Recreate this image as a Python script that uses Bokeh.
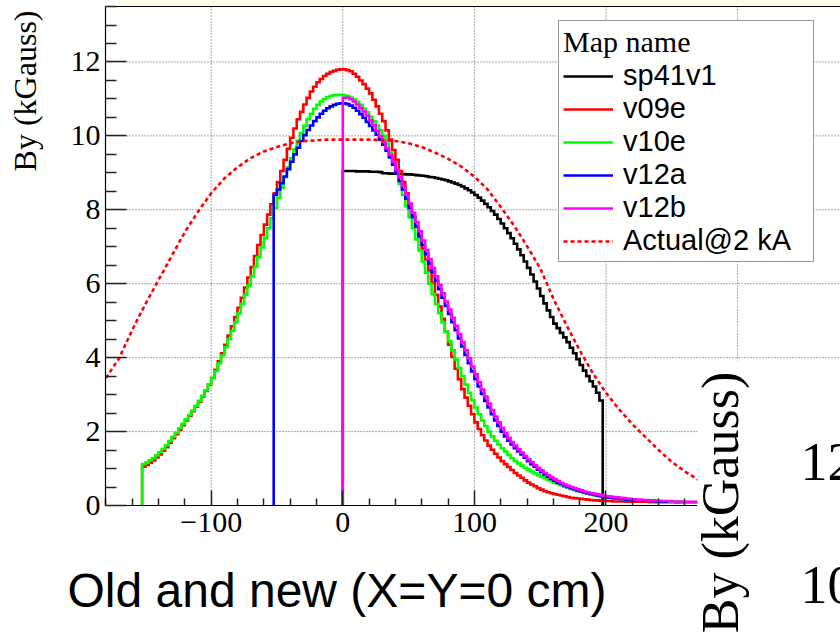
import math
from bokeh.plotting import figure
from bokeh.models import (FixedTicker, Label, Legend, LegendItem, BoxAnnotation,
                          Range1d, LinearAxis)
from bokeh.embed import file_html
from bokeh.resources import INLINE

# ---------------- data ----------------
BIN_WIDTH = 2.5  # cm, histogram bin width

SP41V1_START = 0.0
SP41V1 = [9.05, 9.05, 9.05, 9.05, 9.04, 9.04, 9.04, 9.04, 9.03, 9.03, 9.03, 9.02,
          8.99, 8.99, 8.98, 8.98, 8.98, 8.97, 8.97, 8.96, 8.96, 8.95, 8.94, 8.93,
          8.92, 8.91, 8.89, 8.88, 8.86, 8.84, 8.82, 8.80, 8.77, 8.74, 8.71, 8.67,
          8.63, 8.58, 8.53, 8.47,
          8.40, 8.33, 8.25, 8.16, 8.07, 7.97, 7.87, 7.75, 7.63, 7.50, 7.37, 7.23,
          7.08, 6.93, 6.77, 6.60, 6.43, 6.25, 6.06, 5.87, 5.67, 5.47, 5.28, 5.10,
          4.92, 4.80, 4.67, 4.55, 4.42, 4.27, 4.12, 3.96, 3.80, 3.65, 3.50, 3.36,
          3.22, 3.05, 2.84]

V09E_START = -152.5
V09E = [1.05, 1.10, 1.16, 1.22, 1.30, 1.38, 1.48, 1.58, 1.70, 1.82, 1.93, 2.05,
        2.17, 2.30, 2.42, 2.55, 2.67, 2.80, 2.95, 3.10, 3.27, 3.45, 3.67, 3.90,
        4.12, 4.35, 4.60, 4.85, 5.10, 5.35, 5.62, 5.90, 6.17, 6.45, 6.75, 7.05,
        7.32, 7.60, 7.87, 8.15, 8.45, 8.75, 9.05, 9.35, 9.65, 9.95, 10.20, 10.45,
        10.65, 10.85, 11.03, 11.20, 11.33, 11.45, 11.54, 11.62, 11.68, 11.73,
        11.76, 11.79, 11.80,
        11.80, 11.78, 11.75, 11.68, 11.60, 11.50, 11.40, 11.28, 11.15, 10.98,
        10.80, 10.60, 10.40, 10.15, 9.90, 9.62, 9.35, 9.05, 8.75, 8.45, 8.15,
        7.85, 7.55, 7.25, 6.95, 6.65, 6.35, 6.02, 5.70, 5.38, 5.05, 4.70, 4.35,
        4.02, 3.70, 3.42, 3.15, 2.92, 2.70, 2.47,
        2.25, 2.07, 1.90, 1.76, 1.62, 1.51, 1.40, 1.30, 1.20, 1.12, 1.04, 0.96,
        0.88, 0.81, 0.75, 0.68, 0.62, 0.57, 0.52, 0.47, 0.43, 0.39, 0.36, 0.33,
        0.31, 0.29, 0.27, 0.25, 0.23, 0.21, 0.20, 0.19, 0.18, 0.17, 0.16, 0.15,
        0.14, 0.14, 0.13, 0.13,
        0.12, 0.12, 0.11, 0.11, 0.11, 0.11, 0.10, 0.10, 0.10, 0.10, 0.10, 0.10,
        0.10, 0.09, 0.09, 0.09, 0.09, 0.09, 0.09, 0.09, 0.09, 0.08, 0.08, 0.08,
        0.08, 0.08, 0.08, 0.08]

V10E_START = -152.5
V10E = [1.12, 1.16, 1.22, 1.28, 1.36, 1.44, 1.53, 1.63, 1.74, 1.86, 1.97, 2.09,
        2.21, 2.33, 2.45, 2.57, 2.70, 2.83, 2.97, 3.12, 3.28, 3.45, 3.64, 3.85,
        4.06, 4.28, 4.50, 4.72, 4.96, 5.20, 5.45, 5.70, 5.95, 6.20, 6.46, 6.72,
        6.98, 7.24, 7.50, 7.77, 8.05, 8.32, 8.60, 8.88, 9.15, 9.40, 9.64, 9.87,
        10.08, 10.27, 10.45, 10.60, 10.73, 10.84, 10.93, 11.00, 11.05, 11.08,
        11.10, 11.11, 11.11,
        11.10, 11.08, 11.04, 10.99, 10.92, 10.84, 10.74, 10.64, 10.52, 10.40,
        10.28, 10.15, 10.00, 9.79, 9.55, 9.28, 9.00, 8.70, 8.40, 8.10, 7.80,
        7.50, 7.20, 6.90, 6.60, 6.30, 6.00, 5.72, 5.45, 5.20, 4.95, 4.70, 4.45,
        4.20, 3.95, 3.72, 3.50, 3.27, 3.05, 2.85,
        2.65, 2.47, 2.30, 2.15, 2.00, 1.87, 1.75, 1.65, 1.55, 1.46, 1.37, 1.28,
        1.20, 1.14, 1.08, 1.02, 0.97, 0.92, 0.87, 0.82, 0.78, 0.74, 0.70, 0.66,
        0.62, 0.58, 0.55, 0.51, 0.48, 0.45, 0.42, 0.39, 0.37, 0.34, 0.32, 0.30,
        0.28, 0.26, 0.25, 0.23,
        0.22, 0.21, 0.20, 0.19, 0.18, 0.17, 0.16, 0.16, 0.15, 0.15, 0.14, 0.14,
        0.13, 0.13, 0.12, 0.12, 0.11, 0.11, 0.11, 0.10, 0.10, 0.10, 0.10, 0.09,
        0.09, 0.09, 0.09, 0.09]

V12A_START = -52.5
V12A = [8.40, 8.55, 8.72, 8.90, 9.10, 9.30, 9.50, 9.68, 9.86, 10.02, 10.16,
        10.28, 10.40, 10.50, 10.60, 10.68, 10.75, 10.80, 10.84, 10.87, 10.88,
        10.88, 10.86, 10.82, 10.76, 10.68, 10.59, 10.49, 10.38, 10.27, 10.15,
        10.03, 9.90, 9.76, 9.60, 9.42, 9.22, 9.00, 8.78, 8.55, 8.30, 8.05, 7.80,
        7.55, 7.30, 7.05, 6.80, 6.55, 6.32, 6.08, 5.85, 5.62, 5.40, 5.18, 4.96,
        4.74, 4.52, 4.30, 4.07, 3.85, 3.63,
        3.42, 3.22, 3.02, 2.83, 2.65, 2.47, 2.30, 2.15, 2.00, 1.87, 1.75, 1.65,
        1.55, 1.46, 1.38, 1.29, 1.20, 1.12, 1.05, 0.97, 0.90, 0.84, 0.78, 0.72,
        0.67, 0.62, 0.58, 0.54, 0.50, 0.47, 0.44, 0.41, 0.38, 0.35, 0.33, 0.31,
        0.29, 0.27, 0.25, 0.23,
        0.22, 0.21, 0.20, 0.19, 0.18, 0.17, 0.16, 0.16, 0.15, 0.14, 0.14, 0.13,
        0.13, 0.12, 0.12, 0.11, 0.11, 0.10, 0.10]

V12B_START = 0.0
V12B = [11.03, 11.03, 10.99, 10.93, 10.85, 10.76, 10.66, 10.55, 10.42, 10.29,
        10.14, 9.99, 9.84, 9.67, 9.49, 9.30, 9.09, 8.88, 8.65, 8.41, 8.17, 7.92,
        7.67, 7.42, 7.17, 6.92, 6.67, 6.43, 6.20, 5.97, 5.74, 5.52, 5.30, 5.08,
        4.86, 4.64, 4.42, 4.20, 3.98, 3.76,
        3.55, 3.34, 3.14, 2.95, 2.76, 2.58, 2.41, 2.25, 2.10, 1.96, 1.83, 1.72,
        1.62, 1.52, 1.43, 1.34, 1.25, 1.17, 1.09, 1.02, 0.95, 0.88, 0.82, 0.76,
        0.71, 0.66, 0.61, 0.57, 0.53, 0.50, 0.47, 0.44, 0.41, 0.38, 0.36, 0.34,
        0.32, 0.30, 0.28, 0.26,
        0.25, 0.24, 0.23, 0.22, 0.21, 0.20, 0.19, 0.18, 0.17, 0.16, 0.16, 0.15,
        0.15, 0.14, 0.14, 0.13, 0.13, 0.12, 0.12, 0.12, 0.11, 0.11, 0.11, 0.10,
        0.10, 0.10, 0.10, 0.10]

ACTUAL_X = [-180, -170, -160, -150, -140, -130, -120, -110, -100, -90, -80, -70,
            -60, -50, -40, -30, -20, -10, 0, 10, 20, 30, 40, 50, 60, 70, 80, 90,
            100, 110, 120, 130, 140, 150, 160, 170, 180, 190, 200, 210, 220, 230,
            240, 250, 260, 270, 280]
ACTUAL_Y = [3.45, 3.98, 4.75, 5.45, 6.10, 6.75, 7.40, 7.95, 8.45, 8.85, 9.15, 9.40,
            9.58, 9.70, 9.80, 9.86, 9.88, 9.90, 9.90, 9.90, 9.90, 9.89, 9.86, 9.80,
            9.70, 9.55, 9.38, 9.17, 8.90, 8.55, 8.08, 7.58, 7.02, 6.42, 5.60, 4.88,
            4.20, 3.58, 3.05, 2.60, 2.20, 1.85, 1.50, 1.18, 0.92, 0.70, 0.52]

SERIES_NAMES = ["sp41v1", "v09e", "v10e", "v12a", "v12b", "Actual@2 kA"]
X_TICKS = [-100, 0, 100, 200, 300]
X_TICK_LABELS = ["\u2212100", "0", "100", "200", "300"]
Y_TICKS = [0, 2, 4, 6, 8, 10, 12]
Y_TICK_LABELS = ["0", "2", "4", "6", "8", "10", "12"]

# ---------------- geometry of the chart panel ----------------
X_MIN, X_MAX = -180.3, 378.2      # visible data span of the frame
Y_MIN, Y_MAX = 0.0, 13.5
X_AXIS_END = 269.5                # where the x axis disappears under the next picture
PX_PER_X = 1.316                  # px per cm
PX_PER_Y = 36.96                  # px per kGauss
W, H = 840, 643
LEFT_PX, BOTTOM_PX = 105, 505     # frame corner on the canvas


def outline(start, vals, drop_end=True):
    """Histogram outline path (ROOT 'hist' style)."""
    xs, ys = [start], [0.0]
    x = start
    for v in vals:
        xs += [x, x + BIN_WIDTH]
        ys += [v, v]
        x += BIN_WIDTH
    if drop_end:
        xs.append(x)
        ys.append(0.0)
    return xs, ys


# whole canvas is the plotting frame; axes are placed inside it
p = figure(width=W, height=H, output_backend="svg", toolbar_location=None,
           x_range=Range1d(X_MIN - LEFT_PX / PX_PER_X, X_MAX),
           y_range=Range1d(Y_MIN - (H - BOTTOM_PX) / PX_PER_Y,
                           Y_MAX + (BOTTOM_PX - (Y_MAX * PX_PER_Y)) / PX_PER_Y),
           min_border=0)
p.outline_line_color = None
p.background_fill_color = "white"
p.border_fill_color = "white"
p.xgrid.visible = False
p.ygrid.visible = False

# axes
p.xaxis.fixed_location = 0
p.xaxis.bounds = (X_MIN, X_AXIS_END)
p.yaxis.fixed_location = X_MIN
p.yaxis.bounds = (Y_MIN, Y_MAX)
p.xaxis.ticker = FixedTicker(ticks=X_TICKS,
                             minor_ticks=[v for v in range(-180, 380, 20) if v % 100])
p.yaxis.ticker = FixedTicker(ticks=Y_TICKS,
                             minor_ticks=[k * 0.5 for k in range(0, 28) if k % 4])
p.xaxis.major_label_overrides = {t: s for t, s in zip(X_TICKS, X_TICK_LABELS)}
p.yaxis.major_label_overrides = {t: s for t, s in zip(Y_TICKS, Y_TICK_LABELS)}
for ax in (p.xaxis[0], p.yaxis[0]):
    ax.axis_line_color = "black"
    ax.axis_line_width = 1.2
    ax.major_tick_out = 0
    ax.minor_tick_out = 0
    ax.major_tick_line_color = "#222222"
    ax.minor_tick_line_color = "#222222"
    ax.major_tick_line_width = 1.5
    ax.minor_tick_line_width = 1.5
    ax.major_label_text_font = "Liberation Serif"
    ax.major_label_text_font_size = "30px"
    ax.major_label_text_color = "black"
p.yaxis.major_tick_in = 21
p.yaxis.minor_tick_in = 11
p.xaxis.major_tick_in = 15
p.xaxis.minor_tick_in = 7
p.yaxis.major_label_standoff = 5
p.xaxis.major_label_standoff = 7

# top frame line
top_axis = LinearAxis(fixed_location=Y_MAX, bounds=(X_MIN, X_MAX),
                      ticker=FixedTicker(ticks=[]), axis_line_color="black",
                      axis_line_width=1.2, major_tick_line_color=None,
                      minor_tick_line_color=None)
p.add_layout(top_axis, "above")

# dotted grid at the major ticks
grid_style = dict(line_color="#555555", line_dash="1 2", line_width=1)
p.segment(x0=X_TICKS, x1=X_TICKS, y0=[Y_MIN] * len(X_TICKS),
          y1=[Y_MAX] * len(X_TICKS), **grid_style)
p.segment(x0=[X_MIN] * (len(Y_TICKS) - 1), x1=[X_MAX] * (len(Y_TICKS) - 1),
          y0=Y_TICKS[1:], y1=Y_TICKS[1:], **grid_style)

# histograms
hist_style = dict(line_width=2.6, line_join="miter")
r_sp = p.line(*outline(SP41V1_START, SP41V1), line_color="black", **hist_style)
r_09 = p.line(*outline(V09E_START, V09E, False), line_color="#ff0000", **hist_style)
r_10 = p.line(*outline(V10E_START, V10E, False), line_color="#00ff00", **hist_style)
r_12a = p.line(*outline(V12A_START, V12A, False), line_color="#0000ff", **hist_style)
r_12b = p.line(*outline(V12B_START, V12B, False), line_color="#ff00ff", **hist_style)
r_act = p.line(ACTUAL_X, ACTUAL_Y, line_color="#ff0000", line_width=2.6,
               line_dash="4 3")

# legend
legend = Legend(
    items=[LegendItem(label=n, renderers=[r]) for n, r in
           zip(SERIES_NAMES, [r_sp, r_09, r_10, r_12a, r_12b, r_act])],
    title="Map name", location=(558, H - 262),
    title_text_font="Liberation Serif", title_text_font_size="30px",
    title_text_font_style="normal", title_text_color="black", title_standoff=0,
    label_text_font="Liberation Sans", label_text_font_size="29px",
    label_text_color="black", label_width=186, label_height=30,
    glyph_width=50, glyph_height=20, label_standoff=10, spacing=0, padding=4,
    margin=0, border_line_color="#333333", border_line_width=1.5,
    background_fill_color="white", background_fill_alpha=1.0)
p.add_layout(legend)

# pale strip above the frame (slide background)
p.add_layout(BoxAnnotation(left=118, right=W, bottom=H - 5, top=H,
                           left_units="screen", right_units="screen",
                           bottom_units="screen", top_units="screen",
                           fill_color="#fffbe3", fill_alpha=1, line_color=None))

# white region of the overlapping next picture (lower right)
p.add_layout(BoxAnnotation(left=697, right=W, bottom=0, top=H - 360,
                           left_units="screen", right_units="screen",
                           bottom_units="screen", top_units="screen",
                           fill_color="white", fill_alpha=1, line_color=None))


def screen_label(x, y, text, **kw):
    """Label placed in canvas pixels (x from left, y from top)."""
    p.add_layout(Label(x=x, y=H - y, x_units="screen", y_units="screen",
                       text=text, text_color="black",
                       text_baseline="alphabetic", **kw))


# y-axis title (ROOT style: at the top end of the axis)
screen_label(24, 10, "By (kGauss)", angle=math.pi / 2, text_align="right",
             text_font="Liberation Serif", text_font_size="32px")

# caption below the chart
screen_label(67, 590, "Old and new (X=Y=0 cm)", text_align="left",
             text_font="Liberation Sans", text_font_size="48px")

# fragments of the next picture
screen_label(720, 502, "By (kGauss)", angle=math.pi / 2, text_align="center",
             text_font="Liberation Serif", text_font_size="52px")
screen_label(800, 461, "12", text_align="left",
             text_font="Liberation Serif", text_font_size="54px")
screen_label(800, 584, "10", text_align="left",
             text_font="Liberation Serif", text_font_size="54px")

open("out.html", "w").write(file_html(p, INLINE))
